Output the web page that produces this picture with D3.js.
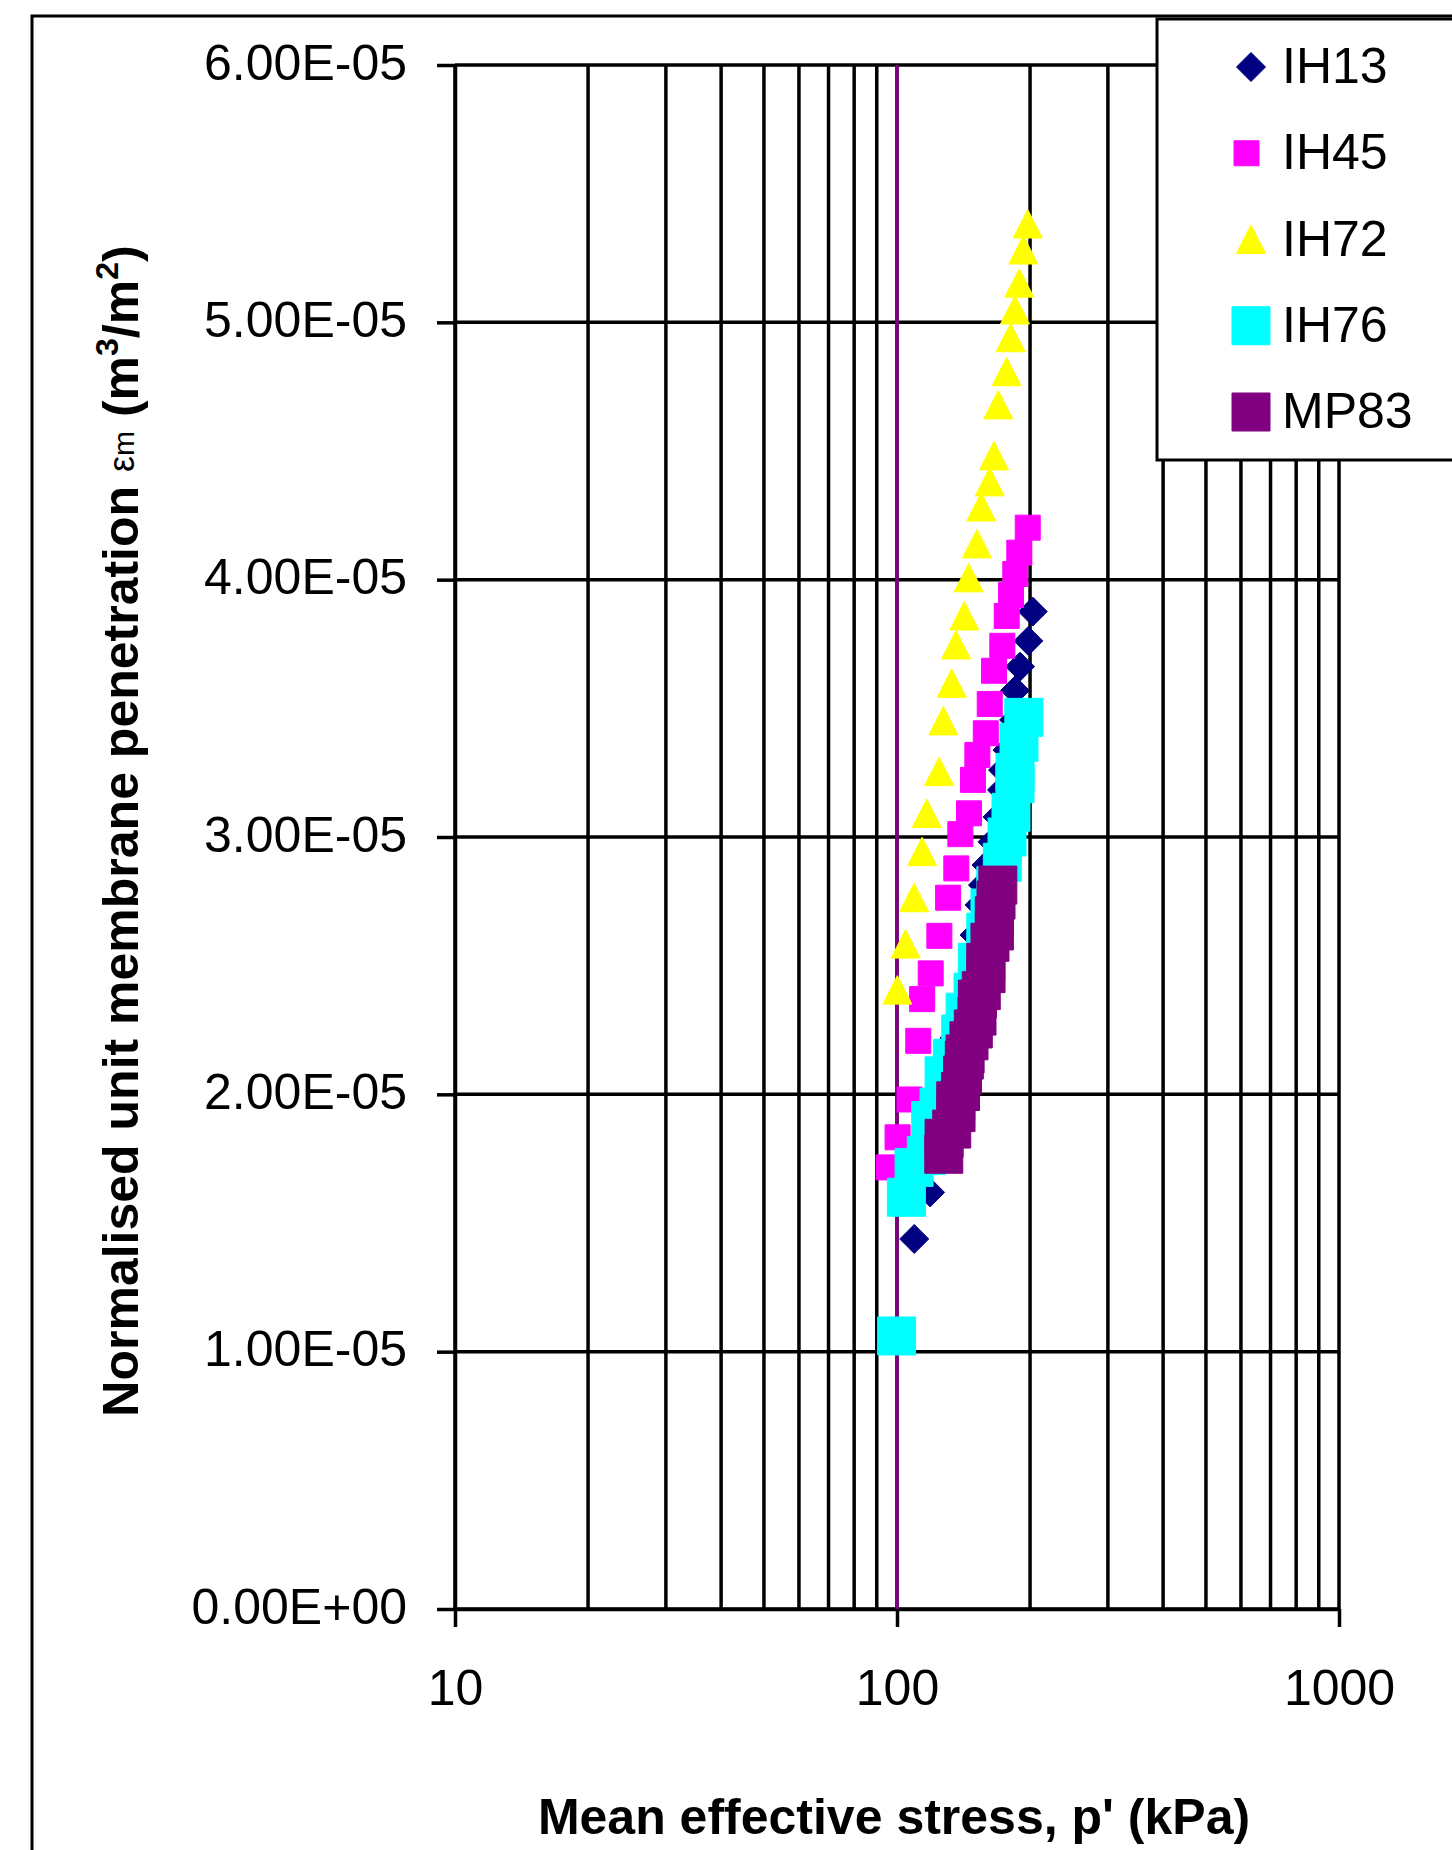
<!DOCTYPE html>
<html><head><meta charset="utf-8">
<script src="https://cdn.jsdelivr.net/npm/d3@7"></script>
<style>
html,body{margin:0;padding:0;background:#fff;}
svg{display:block;font-family:"Liberation Sans",Arial,Helvetica,sans-serif;}
</style></head><body>
<svg id="chart" width="1452" height="1850"></svg>
<script>
// ---------- data ----------
const xTicks = [10, 100, 1000];
const xGrid = [10,20,30,40,50,60,70,80,90,100,200,300,400,500,600,700,800,900,1000];
const yTicks = [0, 1e-5, 2e-5, 3e-5, 4e-5, 5e-5, 6e-5];
const seriesNames = ["IH13", "IH45", "IH72", "IH76", "MP83"];
const refLineP = 100;

// [p' (kPa), normalised unit membrane penetration (m3/m2)]
const IH13 = [[202.8,3.876e-5],[198.2,3.762e-5],[189.8,3.662e-5],[184.9,3.569e-5],[184.0,3.455e-5],
  [177.8,3.338e-5],[173.7,3.260e-5],[172.8,3.183e-5],[168.8,3.078e-5],[164.5,2.981e-5],[159.4,2.891e-5],
  [156.5,2.813e-5],[153.7,2.736e-5],[149.8,2.619e-5],[148.4,2.483e-5],[143.3,2.367e-5],[138.9,2.308e-5],
  [134.9,2.219e-5],[131.8,2.114e-5],[128.4,2.017e-5],[125.1,1.900e-5],[121.9,1.784e-5],[118.8,1.619e-5],
  [109.4,1.438e-5]];
const IH45 = [[197.6,4.202e-5],[189.1,4.105e-5],[185.2,4.022e-5],[181.1,3.940e-5],[177.1,3.859e-5],
  [173.1,3.743e-5],[165.8,3.646e-5],[162.1,3.517e-5],[158.8,3.403e-5],[152.0,3.319e-5],[148.6,3.222e-5],
  [145.5,3.092e-5],[139.1,3.011e-5],[136.2,2.878e-5],[130.5,2.764e-5],[124.7,2.616e-5],[119.2,2.470e-5],
  [114.0,2.370e-5],[111.7,2.208e-5],[106.8,1.980e-5],[100.3,1.833e-5],[95.7,1.716e-5]];
const IH72 = [[197.6,5.382e-5],[193.1,5.281e-5],[189.1,5.152e-5],[184.9,5.048e-5],[180.8,4.940e-5],
  [177.1,4.808e-5],[169.5,4.679e-5],[165.8,4.481e-5],[162.1,4.380e-5],[155.1,4.282e-5],[151.7,4.139e-5],
  [145.3,4.007e-5],[142.0,3.859e-5],[136.0,3.746e-5],[133.0,3.597e-5],[127.3,3.451e-5],[124.5,3.254e-5],
  [116.8,3.091e-5],[114.0,2.943e-5],[109.3,2.764e-5],[104.6,2.584e-5],[100.2,2.405e-5]];
const IH76 = [[193.6,3.465e-5],[188.8,3.368e-5],[184.9,3.251e-5],[184.9,3.207e-5],[181.1,3.096e-5],
  [177.4,3.000e-5],[173.1,2.902e-5],[167.3,2.811e-5],[162.3,2.724e-5],[158.8,2.630e-5],[152.0,2.513e-5],
  [148.6,2.397e-5],[142.6,2.319e-5],[139.4,2.234e-5],[133.4,2.140e-5],[127.8,2.072e-5],[124.5,1.950e-5],
  [119.2,1.898e-5],[116.5,1.762e-5],[109.3,1.716e-5],[105.0,1.600e-5],[99.8,1.061e-5]];
const MP83 = [[169.1,2.813e-5],[167.5,2.755e-5],[166.0,2.694e-5],[166.1,2.635e-5],[162.3,2.591e-5],
  [158.8,2.513e-5],[159.0,2.469e-5],[155.1,2.403e-5],[152.0,2.370e-5],[151.7,2.304e-5],[148.8,2.254e-5],
  [145.5,2.208e-5],[142.6,2.157e-5],[142.0,2.133e-5],[140.7,2.075e-5],[139.2,2.011e-5],[135.8,1.975e-5],
  [136.0,1.929e-5],[133.0,1.865e-5],[127.8,1.829e-5],[127.6,1.767e-5]];

const seriesColors = ["#000080", "#FF00FF", "#FFFF00", "#00FFFF", "#800080"];
const seriesShapes = ["diamond", "smallSquare", "triangle", "square", "square"];
const seriesData = [IH13, IH45, IH72, IH76, MP83];

// ---------- chart ----------
const FONT = '"Liberation Sans", Arial, Helvetica, sans-serif';
const svg = d3.select("#chart");
const x = d3.scaleLog().domain([10, 1000]).range([455, 1339]);
const y = d3.scaleLinear().domain([0, 6e-5]).range([1609, 65]);
const LW = 3.5;

function shapePath(shape) {
  switch (shape) {
    case "diamond": return "M0,-14.5L14.5,0L0,14.5L-14.5,0Z";
    case "triangle": return "M0,-14.5L14.5,14L-14.5,14Z";
    case "smallSquare": return "M-12.5,-12.5H12.5V12.5H-12.5Z";
    default: return "M-19,-19H19V19H-19Z";
  }
}

// outer frame
svg.append("rect").attr("x", 32).attr("y", 16).attr("width", 1500).attr("height", 1900)
  .attr("fill", "#fff").attr("stroke", "#000").attr("stroke-width", 3);

// gridlines
const grid = svg.append("g");
grid.selectAll("line.h").data(yTicks).join("line").attr("class", "h")
  .attr("x1", x(10)).attr("x2", x(1000)).attr("y1", d => y(d)).attr("y2", d => y(d))
  .attr("stroke", "#000").attr("stroke-width", LW);
grid.selectAll("line.v").data(xGrid).join("line").attr("class", "v")
  .attr("x1", d => x(d)).attr("x2", d => x(d)).attr("y1", y(6e-5)).attr("y2", y(0))
  .attr("stroke", "#000").attr("stroke-width", LW);

// axes
function sciFmt(v) {
  if (v === 0) return "0.00E+00";
  const e = Math.floor(Math.log10(Math.abs(v)) + 1e-9);
  const m = v / Math.pow(10, e);
  return m.toFixed(2) + "E" + (e < 0 ? "-" : "+") + String(Math.abs(e)).padStart(2, "0");
}
const yAxis = d3.axisLeft(y).tickValues(yTicks).tickSize(18).tickSizeOuter(0).tickPadding(30).tickFormat(sciFmt);
svg.append("g").attr("transform", `translate(${x(10)},0)`).call(yAxis)
  .call(s => s.select(".domain").attr("stroke-width", LW))
  .call(s => s.selectAll(".tick line").attr("stroke-width", LW))
  .call(s => s.selectAll(".tick text").attr("font-size", 50).attr("font-family", FONT).attr("dy", "0.28em"));

const xAxis = d3.axisBottom(x).tickValues(xTicks).tickSize(18).tickSizeOuter(0).tickPadding(42).tickFormat(d3.format("d"));
svg.append("g").attr("transform", `translate(0,${y(0)})`).call(xAxis)
  .call(s => s.select(".domain").attr("stroke-width", LW))
  .call(s => s.selectAll(".tick line").attr("stroke-width", LW))
  .call(s => s.selectAll(".tick text").attr("font-size", 50).attr("font-family", FONT));

// reference line at p' = 100
svg.append("line").attr("x1", x(refLineP)).attr("x2", x(refLineP)).attr("y1", y(6e-5)).attr("y2", y(0))
  .attr("stroke", "#800080").attr("stroke-width", LW);

// markers
seriesData.forEach((data, i) => {
  svg.append("g").selectAll("path").data(data).join("path")
    .attr("d", shapePath(seriesShapes[i]))
    .attr("transform", d => `translate(${x(d[0])},${y(d[1])})`)
    .attr("fill", seriesColors[i])
    .attr("stroke", seriesColors[i]).attr("stroke-width", 1).attr("stroke-linejoin", "round");
});

// legend
const lg = svg.append("g");
lg.append("rect").attr("x", 1157).attr("y", 19).attr("width", 400).attr("height", 441)
  .attr("fill", "#fff").attr("stroke", "#000").attr("stroke-width", 3);
const legendBase = d3.scaleLinear().domain([0, 4]).range([83, 428]);
seriesNames.forEach((name, i) => {
  const by = legendBase(i);
  lg.append("path").attr("d", shapePath(seriesShapes[i]))
    .attr("transform", `translate(${seriesShapes[i] === "smallSquare" ? 1246.5 : 1251},${by - 16})`)
    .attr("fill", seriesColors[i]).attr("stroke", seriesColors[i]).attr("stroke-width", 1)
    .attr("stroke-linejoin", "round");
  lg.append("text").attr("x", 1282).attr("y", by).attr("font-size", 50).attr("font-family", FONT)
    .attr("fill", "#000").text(name);
});

// axis titles
svg.append("text").attr("x", 894).attr("y", 1834).attr("text-anchor", "middle")
  .attr("font-size", 50).attr("font-weight", "bold").attr("font-family", FONT)
  .text("Mean effective stress, p' (kPa)");

const yt = svg.append("text").attr("transform", "translate(138,831) rotate(-90)")
  .attr("text-anchor", "middle").attr("font-size", 50).attr("font-weight", "bold").attr("font-family", FONT);
yt.append("tspan").text("Normalised unit membrane penetration ");
yt.append("tspan").attr("font-weight", "normal").attr("font-size", 36).attr("dy", -4).text("ε");
yt.append("tspan").attr("font-weight", "normal").attr("font-size", 30).attr("dy", 0).text("m");
yt.append("tspan").attr("dy", 4).text(" (m");
yt.append("tspan").attr("font-size", 32).attr("dy", -20).text("3");
yt.append("tspan").attr("dy", 20).text("/m");
yt.append("tspan").attr("font-size", 32).attr("dy", -20).text("2");
yt.append("tspan").attr("dy", 20).text(")");
</script>
</body></html>
